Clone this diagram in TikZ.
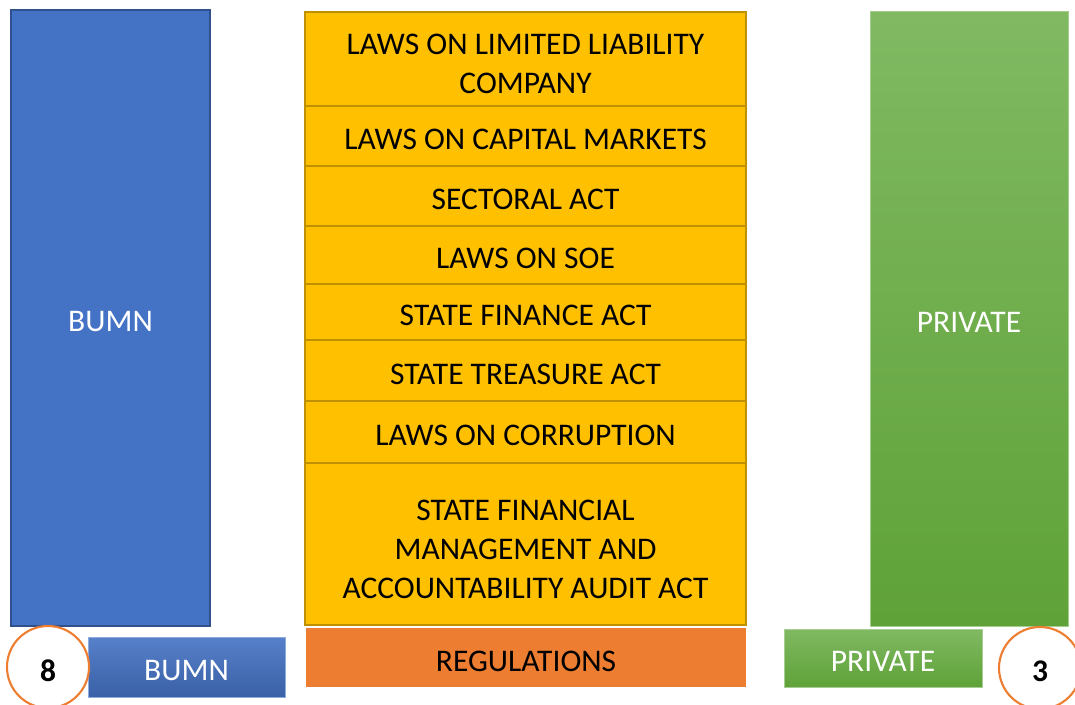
\documentclass[tikz,border=0pt]{standalone}
\usepackage{fontspec}
\setmainfont{Carlito}
\usetikzlibrary{positioning}

\definecolor{soeblue}{HTML}{4472C4}
\definecolor{soeedge}{HTML}{2F528F}
\definecolor{lawyellow}{HTML}{FFC000}
\definecolor{lawedge}{HTML}{BF9000}
\definecolor{regorange}{HTML}{ED7D31}
\definecolor{privtop}{HTML}{80B962}
\definecolor{privbottom}{HTML}{5FA238}

\begin{document}
\begin{tikzpicture}[x=0.025cm, y=-0.025cm]
    \tikzstyle{words}=[font=\fontsize{22.4}{27.5}\selectfont, align=center, yshift=-2.6pt]
    \tikzstyle{law}=[draw=lawedge, line width=1.4pt, fill=lawyellow,
        minimum width=11.025cm, inner sep=0pt, outer sep=0pt]
    \tikzstyle{bar}=[anchor=north west, inner sep=0pt, outer sep=0pt]
    \tikzstyle{count}=[circle, draw=regorange, line width=1.5pt, fill=white,
        minimum size=2.05cm]

    \useasboundingbox (0,0) rectangle (1075,704);
    \clip (0,0) rectangle (1075,704);

    % Big columns on both sides
    \node[bar, draw=soeedge, line width=1.2pt, fill=soeblue,
        minimum width=4.975cm, minimum height=15.4cm,
        label={[words, text=white]center:BUMN}] (bumn) at (11,10) {};
    \node[bar, draw=privtop!70!white, line width=0.6pt, top color=privtop, bottom color=privbottom,
        minimum width=4.95cm, minimum height=15.375cm,
        label={[words, text=white]center:PRIVATE}] (private) at (870,11) {};

    % Stack of acts, top to bottom
    \node[law, anchor=north west, minimum height=2.35cm,
        label={[words, yshift=-1pt]center:{LAWS ON LIMITED LIABILITY\\COMPANY}}] (llc) at (305,12) {};
    \node[law, below=0pt of llc, minimum height=1.5cm,
        label={[words]center:LAWS ON CAPITAL MARKETS}] (capital) {};
    \node[law, below=0pt of capital, minimum height=1.5cm,
        label={[words]center:SECTORAL ACT}] (sectoral) {};
    \node[law, below=0pt of sectoral, minimum height=1.45cm,
        label={[words]center:LAWS ON SOE}] (soe) {};
    \node[law, below=0pt of soe, minimum height=1.4cm,
        label={[words]center:STATE FINANCE ACT}] (finance) {};
    \node[law, below=0pt of finance, minimum height=1.525cm,
        label={[words]center:STATE TREASURE ACT}] (treasure) {};
    \node[law, below=0pt of treasure, minimum height=1.55cm,
        label={[words]center:LAWS ON CORRUPTION}] (corruption) {};
    \node[law, below=0pt of corruption, minimum height=4.05cm,
        label={[words, yshift=-1.2pt]center:{STATE FINANCIAL\\MANAGEMENT AND\\ACCOUNTABILITY AUDIT ACT}}] (audit) {};
    \node[bar, fill=regorange, minimum width=11cm, minimum height=1.475cm,
        label={[words]center:REGULATIONS}] (regulations) at (306,628) {};

    % Legend boxes with counts
    \node[bar, draw=soeblue!60!white, line width=0.5pt, top color=soeblue!90!white, bottom color=soeblue!85!black,
        minimum width=4.925cm, minimum height=1.5cm,
        label={[words, text=white]center:BUMN}] (bumnkey) at (88,637) {};
    \node[bar, draw=privtop!70!white, line width=0.5pt, top color=privtop, bottom color=privbottom,
        minimum width=4.95cm, minimum height=1.45cm,
        label={[words, text=white]center:PRIVATE}] (privkey) at (784,629) {};
    \node[count, label={[words, font=\fontsize{22.4}{27.5}\selectfont\bfseries]center:8}] (nbumn) at (48,667) {};
    \node[count, label={[words, font=\fontsize{22.4}{27.5}\selectfont\bfseries]center:3}] (nprivate) at (1040,668) {};
\end{tikzpicture}
\end{document}
